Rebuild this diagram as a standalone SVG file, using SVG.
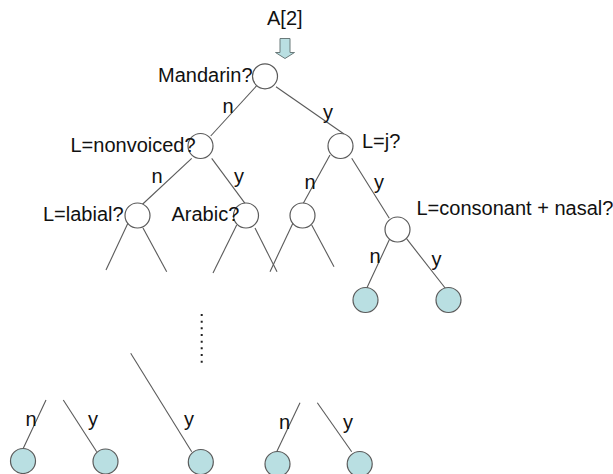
<svg xmlns="http://www.w3.org/2000/svg" width="613" height="474" viewBox="0 0 613 474">
<style>
text{font-family:"Liberation Sans",Arial,sans-serif;font-size:20px;fill:#111}
.q{fill:#fff;stroke:#5a5a5a;stroke-width:1.2}
.leaf{fill:#b9dfe2;stroke:#5a5a5a;stroke-width:1.2}
.e{stroke:#5a5a5a;stroke-width:1.1;fill:none}
.dots{stroke:#222;stroke-width:2;stroke-dasharray:2 4.67;fill:none}
.arrow{fill:#b9dfe2;stroke:#6a7a7a;stroke-width:1}
</style>
<rect width="613" height="474" fill="#fff"/>
<g id="start">
<text x="267" y="25">A[2]</text>
<path class="arrow" d="M280 38.5 H290 V52.5 H294.5 L285 58.5 L275.5 52.5 H280 Z"/>
</g>
<g id="connectors">
<line class="e" x1="256.7" y1="85.7" x2="210.7" y2="136"/>
<line class="e" x1="276" y1="86.7" x2="344" y2="134"/>
<line class="e" x1="191.7" y1="158.3" x2="141.7" y2="205"/>
<line class="e" x1="211.7" y1="158.3" x2="245" y2="203.3"/>
<line class="e" x1="330" y1="155" x2="303.3" y2="203.3"/>
<line class="e" x1="351.7" y1="158.3" x2="389.3" y2="218.3"/>
<line class="e" x1="390" y1="238.3" x2="366.7" y2="288.3"/>
<line class="e" x1="405" y1="236.7" x2="446.7" y2="290"/>
<line class="e" x1="128" y1="223" x2="106" y2="270"/>
<line class="e" x1="143" y1="228" x2="166.7" y2="271.7"/>
<line class="e" x1="236.7" y1="225" x2="213" y2="273"/>
<line class="e" x1="255" y1="228" x2="277" y2="271.7"/>
<line class="e" x1="293" y1="223" x2="270" y2="271.7"/>
<line class="e" x1="311.7" y1="225" x2="334" y2="266.7"/>
<line class="dots" x1="201.7" y1="314" x2="201.7" y2="363"/>
<line class="e" x1="130.7" y1="353.3" x2="191.7" y2="451.7"/>
<line class="e" x1="46" y1="400" x2="23.3" y2="448.3"/>
<line class="e" x1="63.3" y1="400" x2="96.7" y2="451.7"/>
<line class="e" x1="300" y1="402.7" x2="276.7" y2="451.7"/>
<line class="e" x1="317.3" y1="402.7" x2="351.7" y2="451.7"/>
<text x="222.5" y="113">n</text>
<text x="323" y="118.5">y</text>
<text x="151.5" y="183">n</text>
<text x="234" y="183">y</text>
<text x="304.5" y="189">n</text>
<text x="374" y="189">y</text>
<text x="369.5" y="263">n</text>
<text x="431.5" y="265.5">y</text>
<text x="25.5" y="425.5">n</text>
<text x="88" y="425.5">y</text>
<text x="184" y="425.5">y</text>
<text x="279" y="428.5">n</text>
<text x="343" y="428.5">y</text>
</g>
<g id="n-mandarin"><circle class="q" cx="265" cy="76.3" r="12.5"/><text x="158" y="82">Mandarin?</text></g>
<g id="n-nonvoiced"><circle class="q" cx="200.5" cy="146" r="12.5"/><text x="70.5" y="152">L=nonvoiced?</text></g>
<g id="n-j"><circle class="q" cx="340.5" cy="146" r="12.5"/><text x="362" y="148">L=j?</text></g>
<g id="n-labial"><circle class="q" cx="137.5" cy="215.5" r="12.5"/><text x="43" y="220.5">L=labial?</text></g>
<g id="n-arabic"><circle class="q" cx="246" cy="215.5" r="12.5"/><text x="171.5" y="220.5">Arabic?</text></g>
<g id="n-j-n"><circle class="q" cx="302.5" cy="215.5" r="12.5"/></g>
<g id="n-consnasal"><circle class="q" cx="397.5" cy="229.5" r="12.5"/><text x="416.5" y="215" font-size="19.8">L=consonant + nasal?</text></g>
<g id="leaf-1"><circle class="leaf" cx="365.5" cy="300" r="12.5"/></g>
<g id="leaf-2"><circle class="leaf" cx="448.5" cy="300" r="12.5"/></g>
<g id="leaf-3"><circle class="leaf" cx="23" cy="461" r="12.5"/></g>
<g id="leaf-4"><circle class="leaf" cx="105.5" cy="461.5" r="12.5"/></g>
<g id="leaf-5"><circle class="leaf" cx="200.8" cy="462" r="12.5"/></g>
<g id="leaf-6"><circle class="leaf" cx="277.5" cy="464" r="12.5"/></g>
<g id="leaf-7"><circle class="leaf" cx="359.7" cy="464" r="12.5"/></g>
</svg>
